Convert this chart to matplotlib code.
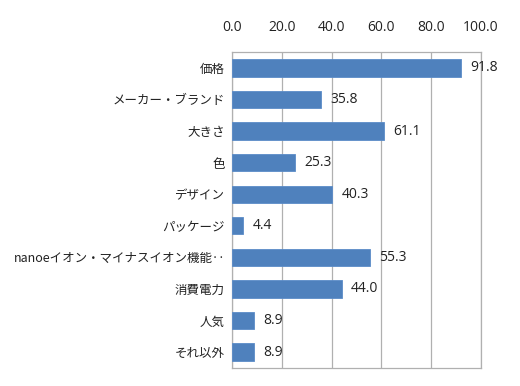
import matplotlib
matplotlib.use("Agg")
import matplotlib.pyplot as plt

plt.rcParams['font.family'] = ['Noto Sans CJK JP', 'DejaVu Sans']

categories = ["価格", "メーカー・ブランド", "大きさ", "色", "デザイン", "パッケージ",
              "nanoeイオン・マイナスイオン機能‥", "消費電力", "人気", "それ以外"]
values = [91.8, 35.8, 61.1, 25.3, 40.3, 4.4, 55.3, 44.0, 8.9, 8.9]
xticks = [0, 20, 40, 60, 80, 100]

fig = plt.figure(figsize=(5.2, 3.86), dpi=100)
ax = fig.add_axes([0.446, 0.047, 0.479, 0.818])

y = list(range(len(categories)))
ax.barh(y, values, height=0.55, color="#4F81BD", edgecolor="#5B8CC8", linewidth=0.6, zorder=3)
for yi, v in zip(y, values):
    ax.text(v + 3.8, yi, f"{v:.1f}", va="center", ha="left", fontsize=10, color="#222222",
            family=['Open Sans', 'DejaVu Sans'], zorder=4)

ax.set_ylim(len(categories) - 0.5, -0.5)
ax.set_xlim(0, 100)
ax.set_xticks(xticks)
ax.set_xticklabels([f"{t:.1f}" for t in xticks], family=['Open Sans', 'DejaVu Sans'], fontsize=10)
ax.xaxis.tick_top()
ax.set_yticks(y)
ax.set_yticklabels(categories, fontsize=9)
ax.tick_params(axis='both', length=0, colors="#222222")
ax.tick_params(axis='y', pad=5)
ax.tick_params(axis='x', pad=12)
ax.grid(axis='x', color="#B0B0B0", linewidth=0.9, zorder=0)
for s in ax.spines.values():
    s.set_color("#B0B0B0")
    s.set_linewidth(0.9)

fig.savefig("out.png", dpi=100)
